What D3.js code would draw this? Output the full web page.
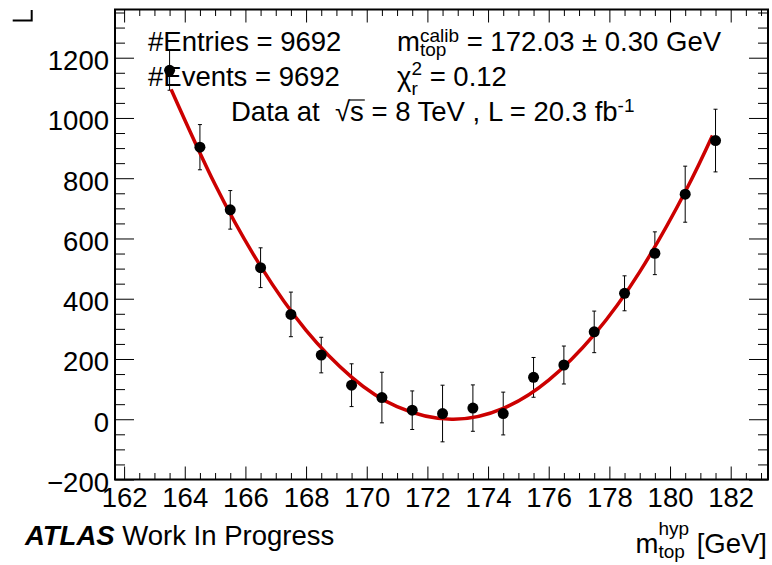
<!DOCTYPE html>
<html>
<head>
<meta charset="utf-8">
<script src="https://cdn.jsdelivr.net/npm/d3@7"></script>
<style>
  body { margin: 0; background: #fff; }
  svg text { font-family: "Liberation Sans", Arial, Helvetica, sans-serif; fill: #000; white-space: pre; }
</style>
</head>
<body>
<div id="chart"></div>
<script>
// Kalibrationskurve: Datenpunkte (Bin-Mitten) und Fehler
const massHyp = [163.5, 164.5, 165.5, 166.5, 167.5, 168.5, 169.5, 170.5, 171.5, 172.5,
                 173.5, 174.5, 175.5, 176.5, 177.5, 178.5, 179.5, 180.5, 181.5];
const counts  = [1158, 903, 695, 503, 348, 213, 113, 72, 30, 19,
                 37, 19, 139, 180, 290, 418, 551, 747, 925];
const errors  = [66, 75, 64, 66, 74, 59, 71, 84, 64, 94,
                 77, 71, 66, 63, 69, 58, 71, 93, 104];

// Fit-Kurve
const fitX = [163.55, 165, 166.5, 168, 169.5, 171, 172.8, 174.5, 176, 177.5, 179, 180.5, 181.4];
const fitY = [1095, 779, 508, 295, 140, 42, 0, 36, 130, 281, 489, 755, 942];

// Achsen
const xMajorTicks = [162, 164, 166, 168, 170, 172, 174, 176, 178, 180, 182];
const yMajorTicks = [-200, 0, 200, 400, 600, 800, 1000, 1200];

class CalibChart {
    constructor(containerId) {
        this.containerId = containerId;
        this.W = 772;
        this.H = 565;
        this.frame = { left: 115, right: 768, top: 9.5, bottom: 479.5 };
        this.fontSize = 27.5;
        this.smallSize = 19;
    }

    init() {
        this.svg = d3.select(`#${this.containerId}`)
            .append('svg')
            .attr('width', this.W)
            .attr('height', this.H);
        this.g = this.svg.append('g');

        this.x = d3.scaleLinear().domain([161.7, 183.23]).range([this.frame.left, this.frame.right]);
        this.y = d3.scaleLinear().domain([-200, 1360]).range([this.frame.bottom, this.frame.top]);
    }

    drawAxes() {
        const f = this.frame;
        const x = this.x, y = this.y;
        const xMinor = d3.range(162.5, 183.3, 0.5).filter(v => v <= 183.23 && !xMajorTicks.includes(v));
        const yMinor = d3.range(-150, 1360, 50).filter(v => !yMajorTicks.includes(v));

        // unten
        this.g.append('g')
            .attr('class', 'axis x-axis')
            .attr('transform', `translate(0,${f.bottom})`)
            .call(d3.axisBottom(x).tickValues(xMajorTicks).tickSize(-13).tickPadding(8).tickFormat(d3.format('d')));
        this.g.append('g')
            .attr('transform', `translate(0,${f.bottom})`)
            .call(d3.axisBottom(x).tickValues(xMinor).tickSize(-6.5).tickFormat(''));
        // oben
        this.g.append('g')
            .attr('transform', `translate(0,${f.top})`)
            .call(d3.axisTop(x).tickValues(xMajorTicks).tickSize(-13).tickFormat(''));
        this.g.append('g')
            .attr('transform', `translate(0,${f.top})`)
            .call(d3.axisTop(x).tickValues(xMinor).tickSize(-6.5).tickFormat(''));
        // links
        this.g.append('g')
            .attr('class', 'axis y-axis')
            .attr('transform', `translate(${f.left},0)`)
            .call(d3.axisLeft(y).tickValues(yMajorTicks).tickSize(-19).tickPadding(6).tickFormat(d3.format('d')));
        this.g.append('g')
            .attr('transform', `translate(${f.left},0)`)
            .call(d3.axisLeft(y).tickValues(yMinor).tickSize(-10).tickFormat(''));
        // rechts
        this.g.append('g')
            .attr('transform', `translate(${f.right},0)`)
            .call(d3.axisRight(y).tickValues(yMajorTicks).tickSize(-19).tickFormat(''));
        this.g.append('g')
            .attr('transform', `translate(${f.right},0)`)
            .call(d3.axisRight(y).tickValues(yMinor).tickSize(-10).tickFormat(''));

        this.g.selectAll('.domain').remove();
        this.g.selectAll('.tick line').attr('stroke', '#000').attr('stroke-width', 1);
        this.g.selectAll('.tick text')
            .style('font-size', `${this.fontSize}px`)
            .attr('fill', '#000');
        this.g.selectAll('.y-axis .tick text').attr('dy', '0.43em');

        this.g.append('rect')
            .attr('x', f.left)
            .attr('y', f.top)
            .attr('width', f.right - f.left)
            .attr('height', f.bottom - f.top)
            .attr('fill', 'none')
            .attr('stroke', '#000')
            .attr('stroke-width', 2);

        // kleines Artefakt oben links
        this.g.append('path')
            .attr('d', 'M12.7,20.5 H31.7 V10')
            .attr('fill', 'none')
            .attr('stroke', '#000')
            .attr('stroke-width', 2);
    }

    drawData() {
        const x = this.x, y = this.y;
        const data = massHyp.map((m, i) => ({ m: m, c: counts[i], e: errors[i] }));

        // Fehlerbalken
        const bars = this.g.append('g').attr('class', 'errors');
        data.forEach(d => {
            bars.append('line')
                .attr('x1', x(d.m)).attr('x2', x(d.m))
                .attr('y1', y(d.c - d.e)).attr('y2', y(d.c + d.e))
                .attr('stroke', '#000').attr('stroke-width', 1);
            [d.c - d.e, d.c + d.e].forEach(v => {
                bars.append('line')
                    .attr('x1', x(d.m) - 2).attr('x2', x(d.m) + 2)
                    .attr('y1', y(v)).attr('y2', y(v))
                    .attr('stroke', '#000').attr('stroke-width', 1);
            });
        });

        // Fit
        const fit = fitX.map((v, i) => ({ m: v, c: fitY[i] }));
        const line = d3.line()
            .x(d => x(d.m))
            .y(d => y(d.c))
            .curve(d3.curveNatural);
        this.g.append('path')
            .datum(fit)
            .attr('class', 'line fit-line')
            .attr('d', line)
            .attr('fill', 'none')
            .attr('stroke', '#cc0000')
            .attr('stroke-width', 3.5);

        // Punkte
        this.g.append('g')
            .selectAll('circle')
            .data(data)
            .join('circle')
            .attr('cx', d => x(d.m))
            .attr('cy', d => y(d.c))
            .attr('r', 5.5)
            .attr('fill', '#000');
    }

    // Text mit Hoch-/Tiefstellung stückweise setzen
    rich(x0, y0, parts, anchorEnd) {
        const grp = this.g.append('g');
        let cx = 0;
        parts.forEach(p => {
            if (p.sup !== undefined || p.sub !== undefined) {
                let w = 0;
                if (p.sup !== undefined) {
                    const t = grp.append('text').attr('x', cx).attr('y', p.supDy)
                        .style('font-size', `${this.smallSize}px`).text(p.sup);
                    w = Math.max(w, t.node().getComputedTextLength());
                }
                if (p.sub !== undefined) {
                    const t = grp.append('text').attr('x', cx).attr('y', p.subDy)
                        .style('font-size', `${this.smallSize}px`).text(p.sub);
                    w = Math.max(w, t.node().getComputedTextLength());
                }
                cx += w;
            } else {
                const t = grp.append('text').attr('x', cx).attr('y', 0)
                    .attr('xml:space', 'preserve')
                    .style('font-size', `${this.fontSize}px`)
                    .style('font-weight', p.bold ? 'bold' : 'normal')
                    .style('font-style', p.italic ? 'italic' : 'normal')
                    .text(p.t);
                const w = t.node().getComputedTextLength();
                if (p.overline) {
                    grp.append('line')
                        .attr('x1', cx - 1).attr('x2', cx + w + 1)
                        .attr('y1', -21).attr('y2', -21)
                        .attr('stroke', '#000').attr('stroke-width', 1.2);
                }
                cx += w;
            }
        });
        const tx = anchorEnd ? x0 - cx : x0;
        grp.attr('transform', `translate(${tx},${y0})`);
    }

    drawLabels() {
        this.rich(148, 51, [{ t: '#Entries = 9692' }]);
        this.rich(148, 86, [{ t: '#Events = 9692' }]);
        this.rich(397, 51, [
            { t: 'm' },
            { sup: 'calib', supDy: -9, sub: 'top', subDy: 5 },
            { t: ' = 172.03 \u00b1 0.30 GeV' }
        ]);
        this.rich(397, 86, [
            { t: '\u03c7' },
            { sup: '2', supDy: -11, sub: 'r', subDy: 9 },
            { t: ' = 0.12' }
        ]);
        this.rich(231, 121, [
            { t: 'Data at  ' },
            { t: '\u221a' },
            { t: 's', overline: true },
            { t: ' = 8 TeV , L = 20.3 fb' },
            { sup: '-1', supDy: -9 }
        ]);

        this.rich(25, 545, [
            { t: 'ATLAS', bold: true, italic: true },
            { t: ' Work In Progress' }
        ]);
        this.rich(767, 553, [
            { t: 'm' },
            { sup: 'hyp', supDy: -18, sub: 'top', subDy: 5 },
            { t: ' [GeV]' }
        ], true);
    }

    update() {
        if (!this.svg) {
            this.init();
        }
        this.drawAxes();
        this.drawData();
        this.drawLabels();
    }
}

const chart = new CalibChart('chart');
chart.update();
</script>
</body>
</html>
